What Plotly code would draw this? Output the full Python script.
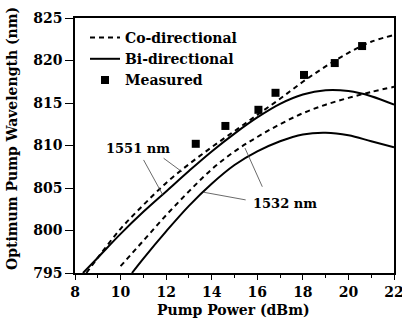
import plotly.graph_objects as go

# Co-directional, 1551 nm signal
co1551_x = [8.5, 9, 10, 11, 12, 13, 14, 15, 16, 17, 18, 19, 20, 21, 22]
co1551_y = [795.0, 796.8, 800.2, 803.0, 805.6, 807.8, 809.8, 811.7, 813.6, 815.5, 817.5, 819.3, 820.9, 822.2, 823.0]
# Bi-directional, 1551 nm signal
bi1551_x = [8.35, 9, 10, 11, 12, 13, 14, 15, 16, 17, 18, 19, 20, 21, 22]
bi1551_y = [795.0, 796.8, 799.6, 802.2, 804.6, 807.0, 809.3, 811.4, 813.3, 814.9, 816.0, 816.5, 816.4, 815.8, 814.8]
# Co-directional, 1532 nm signal
co1532_x = [10, 11, 12, 13, 14, 15, 16, 17, 18, 19, 20, 21, 22]
co1532_y = [795.8, 798.8, 801.8, 804.6, 807.2, 809.3, 811.0, 812.5, 813.8, 814.8, 815.6, 816.3, 816.9]
# Bi-directional, 1532 nm signal
bi1532_x = [10.5, 11, 12, 13, 14, 15, 16, 17, 18, 19, 20, 21, 22]
bi1532_y = [795.0, 796.7, 799.9, 802.9, 805.5, 807.7, 809.3, 810.5, 811.3, 811.5, 811.2, 810.5, 809.8]
# Measured points
meas_x = [13.3, 14.6, 16.05, 16.8, 18.05, 19.4, 20.6]
meas_y = [810.2, 812.3, 814.2, 816.2, 818.3, 819.7, 821.7]

x_ticks = [8, 10, 12, 14, 16, 18, 20, 22]
y_ticks = [795, 800, 805, 810, 815, 820, 825]

FONT = "DejaVu Serif"
dash = "5px,4px"

W, H = 402, 319
L, R, T, B = 75, 8, 18, 46
pw, ph = W - L - R, H - T - B


def px_to_paper(ref_x, ref_y):
    return (ref_x - L) / pw, (H - B - ref_y) / ph


fig = go.Figure()
fig.add_trace(go.Scatter(x=co1551_x, y=co1551_y, mode="lines", name="Co-directional",
                         line=dict(color="black", width=2, dash=dash, shape="spline"), legendrank=1))
fig.add_trace(go.Scatter(x=bi1551_x, y=bi1551_y, mode="lines", name="Bi-directional",
                         line=dict(color="black", width=2, shape="spline"), legendrank=2))
fig.add_trace(go.Scatter(x=co1532_x, y=co1532_y, mode="lines", showlegend=False,
                         line=dict(color="black", width=2, dash=dash, shape="spline")))
fig.add_trace(go.Scatter(x=bi1532_x, y=bi1532_y, mode="lines", showlegend=False,
                         line=dict(color="black", width=2, shape="spline")))
fig.add_trace(go.Scatter(x=meas_x, y=meas_y, mode="markers", name="Measured",
                         marker=dict(symbol="square", size=8, color="black"), legendrank=3))

# leader lines from labels to curves
leaders = [
    (11.01, 808.3, 11.85, 804.2),
    (11.89, 808.5, 12.70, 806.9),
    (15.46, 809.7, 16.22, 805.15),
    (13.65, 804.5, 15.49, 803.6),
]
for x0, y0, x1, y1 in leaders:
    fig.add_shape(type="line", x0=x0, y0=y0, x1=x1, y1=y1, xref="x", yref="y",
                  line=dict(color="#444", width=0.8))

fig.add_annotation(x=10.78, y=809.7, text="1551 nm", showarrow=False,
                   xanchor="center", yanchor="middle",
                   font=dict(family=FONT, size=13, color="black", weight="bold"))
fig.add_annotation(x=17.2, y=803.2, text="1532 nm", showarrow=False,
                   xanchor="center", yanchor="middle",
                   font=dict(family=FONT, size=13, color="black", weight="bold"))

yx, yy = px_to_paper(12, 139)
fig.add_annotation(x=yx, y=yy, xref="paper", yref="paper",
                   text="Optimum Pump Wavelength (nm)", showarrow=False, textangle=-90,
                   xanchor="center", yanchor="middle",
                   font=dict(family=FONT, size=14, color="black", weight="bold"))
xx, xy = px_to_paper(233, 310)
fig.add_annotation(x=xx, y=xy, xref="paper", yref="paper",
                   text="Pump Power (dBm)", showarrow=False,
                   xanchor="center", yanchor="middle",
                   font=dict(family=FONT, size=14, color="black", weight="bold"))

lx, ly = px_to_paper(85, 22)
fig.update_layout(
    width=W, height=H,
    margin=dict(l=L, r=R, t=T, b=B, autoexpand=False),
    paper_bgcolor="white", plot_bgcolor="white",
    showlegend=True,
    legend=dict(x=lx, y=ly, xanchor="left", yanchor="top",
                bgcolor="rgba(0,0,0,0)", borderwidth=0,
                font=dict(family=FONT, size=14, color="black", weight="bold"),
                itemwidth=30, tracegroupgap=0),
    font=dict(family=FONT, color="black"),
)
fig.update_xaxes(range=[8, 22], tickvals=x_ticks, ticktext=[str(v) for v in x_ticks],
                 automargin=False, ticklabeloverflow="allow",
                 showgrid=False, zeroline=False, showline=True, linecolor="black", linewidth=1.5,
                 mirror=True, ticks="outside", ticklen=5, tickwidth=1.2, tickcolor="black",
                 minor=dict(dtick=1, ticks="outside", ticklen=3, tickcolor="black", tickwidth=1),
                 tickfont=dict(family=FONT, size=14, color="black", weight="bold"))
fig.update_yaxes(range=[795, 825], tickvals=y_ticks, ticktext=[str(v) for v in y_ticks],
                 automargin=False, ticklabeloverflow="allow",
                 showgrid=False, zeroline=False, showline=True, linecolor="black", linewidth=1.5,
                 mirror=True, ticks="outside", ticklen=8, tickwidth=1.2, tickcolor="black",
                 tickfont=dict(family=FONT, size=14, color="black", weight="bold"))

fig.write_html("out.html", config={"displayModeBar": False},
               post_script="document.body.style.margin='0px';document.body.style.overflow='hidden';")
